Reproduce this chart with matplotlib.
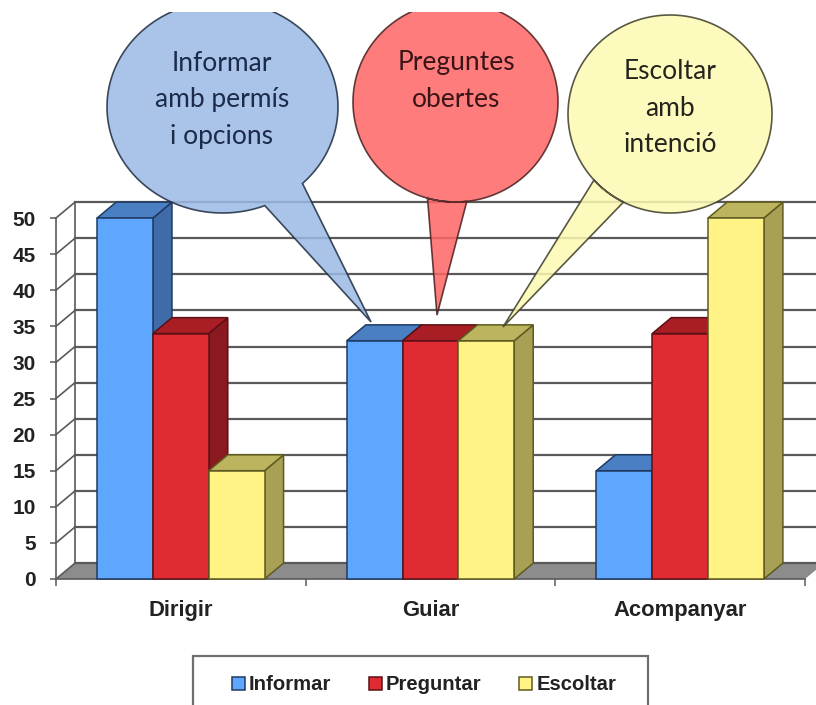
import numpy as np
import matplotlib
matplotlib.use("Agg")
import matplotlib.pyplot as plt
from matplotlib.patches import Polygon, Rectangle

categories = ["Dirigir", "Guiar", "Acompanyar"]
informar = [50, 33, 15]
preguntar = [34, 33, 34]
escoltar = [15, 33, 50]
series_names = ["Informar", "Preguntar", "Escoltar"]
y_ticks = [0, 5, 10, 15, 20, 25, 30, 35, 40, 45, 50]

bubble_texts = ["Informar\namb permís\ni opcions", "Preguntes\nobertes", "Escoltar\namb\nintenció"]

W, H = 816, 705
BAR = 0.2235
DX = 0.0762   # 3d depth, in category units
DY = 2.2      # 3d depth, in value units
GRID = "#5a5a5a"

# front, side, top, edge
styles = [
    ("#5FA6FF", "#3F6BA8", "#4A7FC4", "#1F3A63"),
    ("#E02B33", "#8A1A20", "#A81E24", "#5C1015"),
    ("#FFF385", "#A8A055", "#BDB45F", "#5F5A20"),
]

plt.rcParams["font.family"] = ["Liberation Sans", "DejaVu Sans"]
fig = plt.figure(figsize=(W / 100, H / 100), dpi=100)
ax = fig.add_axes([56 / W, 1 - 579 / H, 749 / W, 361 / H])
ax.set_xlim(-0.5, 2.5)
ax.set_ylim(0, 50)
ax.patch.set_visible(False)

# floor and walls
ax.add_patch(Polygon([(-0.5, 0), (-0.5 + DX, DY), (2.5 + DX, DY), (2.5, 0)],
                     facecolor="#8C8C8C", edgecolor="none", clip_on=False, zorder=1))
for v in y_ticks:
    ax.plot([-0.5 + DX, 2.5 + DX], [v + DY, v + DY], color=GRID, lw=1.6, clip_on=False, zorder=1.5)
    ax.plot([-0.5, -0.5 + DX], [v, v + DY], color=GRID, lw=1.2, clip_on=False, zorder=1.5)
ax.plot([-0.5 + DX, -0.5 + DX], [DY, 50 + DY], color=GRID, lw=1.2, clip_on=False, zorder=1.5)

# bars, left to right so that each one covers the side of the one before
values = [informar, preguntar, escoltar]
z = 3
for c in range(len(categories)):
    for s in range(3):
        x0 = c + (s - 1.5) * BAR
        v = values[s][c]
        front, side, top, edge = styles[s]
        ax.add_patch(Polygon([(x0 + BAR, 0), (x0 + BAR + DX, DY), (x0 + BAR + DX, v + DY), (x0 + BAR, v)],
                             facecolor=side, edgecolor=edge, lw=1.1, clip_on=False, zorder=z))
        ax.add_patch(Polygon([(x0, v), (x0 + DX, v + DY), (x0 + BAR + DX, v + DY), (x0 + BAR, v)],
                             facecolor=top, edgecolor=edge, lw=1.1, clip_on=False, zorder=z))
        ax.bar(x0, v, BAR, align="edge", color=front, edgecolor=edge, lw=1.1,
               clip_on=False, zorder=z + 0.5, label=series_names[s] if c == 0 else None)
        z += 1

for name in ["top", "right"]:
    ax.spines[name].set_visible(False)
for name in ["left", "bottom"]:
    ax.spines[name].set_color(GRID)
    ax.spines[name].set_linewidth(1.2)
    ax.spines[name].set_zorder(2)

ax.set_yticks(y_ticks)
ax.set_xticks([0, 1, 2])
ax.set_xticklabels(categories)
ax.set_xticks([-0.5, 0.5, 1.5, 2.5], minor=True)
ax.tick_params(axis="y", length=4.5, width=1.1, color=GRID, pad=10, labelsize=15, labelcolor="#222222")
ax.tick_params(axis="x", which="major", length=0, pad=15, labelsize=15.8, labelcolor="#222222")
ax.tick_params(axis="x", which="minor", length=5, width=1.1, color=GRID)
for lab in ax.get_yticklabels() + ax.get_xticklabels():
    lab.set_fontweight("bold")

# overlay in image pixels for the callouts and the legend frame
ov = fig.add_axes([0, 0, 1, 1])
ov.set_xlim(0, W)
ov.set_ylim(H, 0)
ov.axis("off")
ov.patch.set_visible(False)


def bubble(cx, cy, rx, ry, a, b, tip, fill, edge):
    t1 = np.arctan2((a[1] - cy) / ry, (a[0] - cx) / rx) % (2 * np.pi)
    t2 = np.arctan2((b[1] - cy) / ry, (b[0] - cx) / rx) % (2 * np.pi)
    t = np.linspace(t2, t1 + 2 * np.pi, 200)
    pts = list(zip(cx + rx * np.cos(t), cy + ry * np.sin(t))) + [tip]
    p = Polygon(pts, closed=True, facecolor=fill, edgecolor=edge, lw=1.2, alpha=0.85, zorder=10)
    ov.add_patch(p)
    p.set_clip_path(Rectangle((0, 12), W, H, transform=ov.transData))


bubble(222.5, 107, 115.5, 106, (302, 183), (265, 206), (371, 322), "#9ABAE4", "#1E2C40")
bubble(455.5, 102, 102.5, 100, (427, 200), (467, 203), (437, 315), "#FF6565", "#4A2020")
bubble(670, 114, 102, 99, (594, 180), (623, 203), (503, 327), "#FDFAB2", "#3C3C28")

text_pos = [(222, 100), (456, 81), (670, 108)]
text_cols = ["#1D2B4A", "#3A1518", "#24241C"]
for txt, (tx, ty), col in zip(bubble_texts, text_pos, text_cols):
    ov.text(tx, ty, txt, ha="center", va="center", fontsize=19, family="Lato",
            color=col, linespacing=1.58, zorder=11)

ov.add_patch(Rectangle((193, 656), 455, 70, facecolor="white", edgecolor="#6E6E6E", lw=1.6, zorder=9))

handles, labels = ax.get_legend_handles_labels()
leg = ov.legend(handles, labels, ncol=3, frameon=False, loc="center", bbox_to_anchor=(424, 685),
                bbox_transform=ov.transData, prop={"family": "Liberation Sans", "weight": "bold", "size": 14.6},
                handlelength=0.64, handleheight=0.64, handletextpad=0.2, columnspacing=1.87,
                labelcolor="#222222", borderpad=0)
leg.set_zorder(12)

fig.savefig("out.png", dpi=100)
